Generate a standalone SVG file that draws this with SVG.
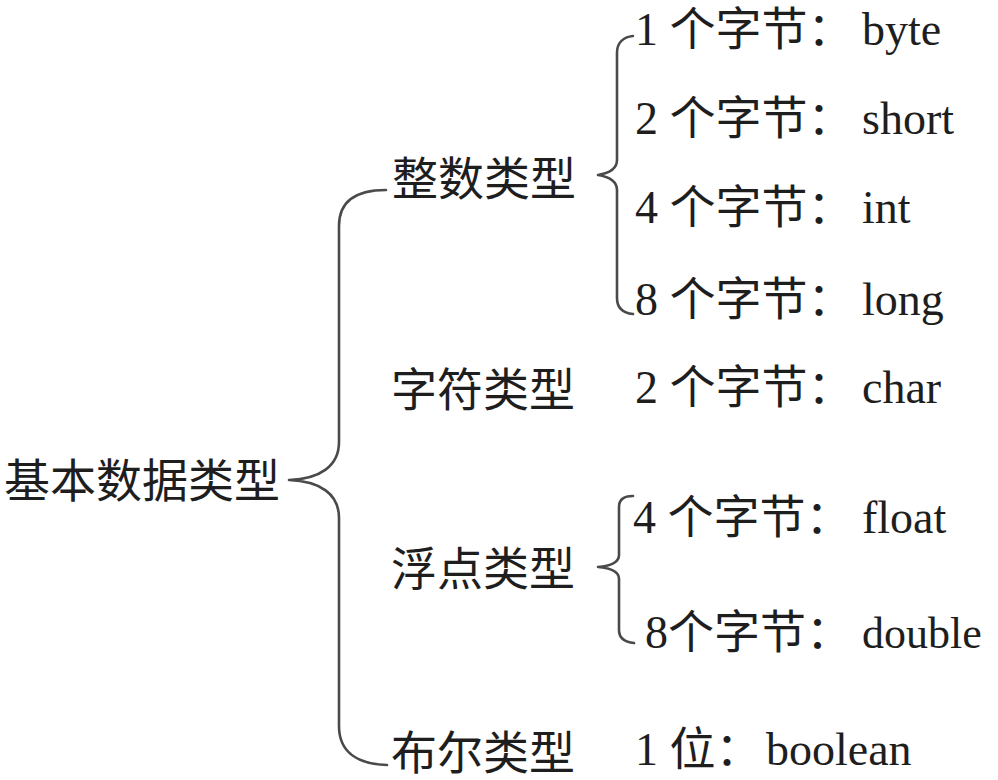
<svg xmlns="http://www.w3.org/2000/svg" width="998" height="780" viewBox="0 0 998 780">
<style>
.t{font-family:"Liberation Serif","Noto Sans CJK SC",serif;font-size:46px;fill:#1e1e1e}
.b{fill:none;stroke:#4a4a4a;stroke-width:2.6;stroke-linecap:round;stroke-linejoin:round}
</style>
<rect width="998" height="780" fill="#ffffff"/>
<g id="connectors">
<path class="b" d="M386,190 C356,190 339,201 339,226 L339,442 C339,466 320,479 289,480 C320,481 339,494 339,518 L339,726 C339,751 356,764 387,765"/>
<path class="b" d="M633,36 C623,37 617,43 617,53 L617,160 C617,168 610,173 598,175 C610,177 617,182 617,190 L617,298 C617,308 623,313 633,314"/>
<path class="b" d="M633,496 C624,496 619,499 619,507 L619,555 C619,562 611,566 598,567 C611,568 619,572 619,579 L619,630 C619,638 624,642 634,643"/>
</g>
<g id="root"><text class="t" x="4" y="497">基本数据类型</text></g>
<g id="int-type"><text class="t" x="392" y="195">整数类型</text></g>
<g id="char-type"><text class="t" x="391" y="406">字符类型</text></g>
<g id="float-type"><text class="t" x="391" y="585">浮点类型</text></g>
<g id="bool-type"><text class="t" x="391" y="769">布尔类型</text></g>
<g id="byte"><text class="t" x="635" y="45">1 个字节：<tspan x="862">byte</tspan></text></g>
<g id="short"><text class="t" x="635" y="134">2 个字节：<tspan x="862">short</tspan></text></g>
<g id="int"><text class="t" x="635" y="223">4 个字节：<tspan x="862">int</tspan></text></g>
<g id="long"><text class="t" x="635" y="315">8 个字节：<tspan x="862">long</tspan></text></g>
<g id="char"><text class="t" x="635" y="403">2 个字节：<tspan x="862">char</tspan></text></g>
<g id="float"><text class="t" x="633" y="533">4 个字节：<tspan x="862">float</tspan></text></g>
<g id="double"><text class="t" x="645" y="648">8个字节：<tspan x="862" font-size="44">double</tspan></text></g>
<g id="boolean"><text class="t" x="635" y="765">1 位：<tspan x="766">boolean</tspan></text></g>
</svg>
